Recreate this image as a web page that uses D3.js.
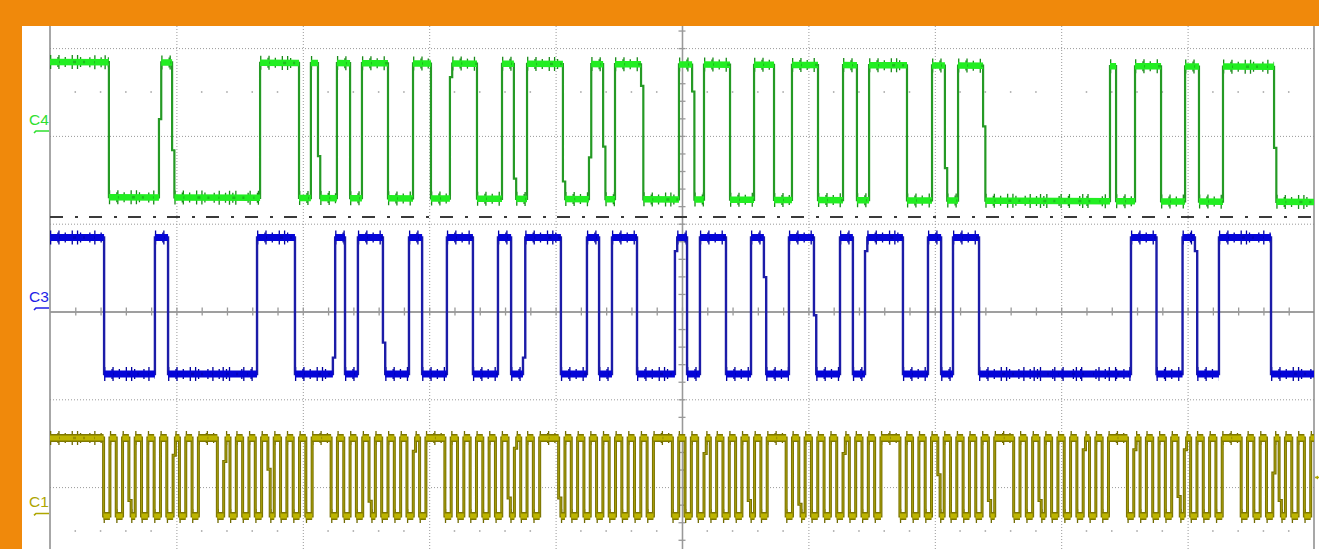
<!DOCTYPE html>
<html><head><meta charset="utf-8">
<script src="https://cdn.jsdelivr.net/npm/d3@7"></script>
<style>
html,body{margin:0;padding:0;background:#F0890B;overflow:hidden}
svg{display:block}
</style></head><body>
<svg id="c" width="1319" height="549"></svg>
<script>
// ---------------- data (time in ns, 500 ns / div, logic levels 0/1) ----------------
const channelNames = ["C4", "C3", "C1"];
const timeRangeNs = [0, 5000];

const c4Start = 1;
const c4Edges = [233,431,483,831,985,1032,1060,1135,1187,1234,1337,1436,1507,1582,1689,1788,1835,1887,
  2029,2132,2188,2235,2338,2488,2540,2587,2690,2785,2864,2935,3038,3137,3192,3240,3390,3489,3540,3592,
  3691,4193,4217,4292,4395,4490,4545,4640,4842];
const c4Glitches = [[431,0.58],[483,0.35],[1060,0.31],[1582,0.9],[1835,0.15],[2029,0.13],[2132,0.31],
  [2188,0.39],[2338,0.84],[2540,0.8],[3540,0.24],[3691,0.55],[4842,0.4]];

const c3Start = 1;
const c3Edges = [214,415,467,819,969,1119,1167,1218,1317,1420,1472,1570,1673,1772,1824,1871,2021,2124,
  2172,2223,2322,2472,2520,2571,2674,2773,2824,2923,3022,3125,3176,3224,3374,3473,3525,3572,3675,4276,
  4377,4480,4529,4624,4830];
const c3Glitches = [[1119,0.12],[1317,0.23],[1871,0.12],[2472,0.9],[2824,0.71],[3022,0.43],[3224,0.9],[4529,0.9]];

const c1Start = 1;
const c1Bytes = [
  [212,237,262,287,312,337,362,387,412,437,462,487,512,537,562,587],
  [662,687,712,737,762,787,812,837,862,887,912,937,962,987,1012,1037],
  [1112,1137,1162,1187,1212,1237,1262,1287,1312,1337,1362,1387,1412,1437,1462,1487],
  [1562,1587,1612,1637,1662,1687,1712,1737,1762,1787,1812,1837,1862,1887,1912,1937],
  [2012,2037,2062,2087,2112,2137,2162,2187,2212,2237,2262,2287,2312,2337,2362,2387],
  [2462,2487,2512,2537,2562,2587,2612,2637,2662,2687,2712,2737,2762,2787,2812,2837],
  [2912,2937,2962,2987,3012,3037,3062,3087,3112,3137,3162,3187,3212,3237,3262,3287],
  [3362,3387,3412,3437,3462,3487,3512,3537,3562,3587,3612,3637,3662,3687,3712,3737],
  [3812,3837,3862,3887,3912,3937,3962,3987,4012,4037,4062,4087,4112,4137,4162,4187],
  [4262,4287,4312,4337,4362,4387,4412,4437,4462,4487,4512,4537,4562,4587,4612,4637],
  [4712,4737,4762,4787,4812,4837,4862,4887,4912,4937,4962,4987]
];
const c1Glitches = [[312,0.2],[487,0.78],[687,0.7],[862,0.6],[1262,0.19],[1437,0.83],[1812,0.23],[1837,0.87],
  [2012,0.23],[2587,0.8],[2762,0.2],[2962,0.15],[3137,0.8],[3512,0.53],[3712,0.2],[3912,0.2],[4087,0.85],
  [4287,0.85],[4462,0.25],[4487,0.85],[4837,0.55],[4862,0.2]];

// ---------------- layout / style ----------------
const W = 1319, H = 549;
const plot = {left: 50, right: 1314, top: 26, bottom: 549};
const svg = d3.select("#c");
svg.append("rect").attr("width", W).attr("height", H).attr("fill", "#F0890B");
svg.append("rect").attr("x", 22).attr("y", 26).attr("width", W - 22).attr("height", H - 26).attr("fill", "#ffffff");

const x = d3.scaleLinear().domain(timeRangeNs).range([plot.left, plot.right]);
const yDiv = d3.scaleLinear().domain([-4, 4]).range([311.5 + 4 * 87.8, 311.5 - 4 * 87.8]);

const defs = svg.append("defs");
defs.append("clipPath").attr("id", "plotclip").append("rect")
  .attr("x", plot.left).attr("y", plot.top).attr("width", plot.right - plot.left).attr("height", plot.bottom - plot.top);

const grid = svg.append("g").attr("clip-path", "url(#plotclip)");
const gridColor = "#999999";

// vertical dotted grid
const gridTimes = d3.range(500, 5000, 500).filter(t => t !== 2500);
const gx = grid.append("g").attr("transform", `translate(0,${plot.bottom})`)
  .call(d3.axisTop(x).tickValues(gridTimes).tickSize(plot.bottom - plot.top).tickFormat(""));
gx.select(".domain").remove();
gx.selectAll("line").attr("stroke", gridColor).attr("stroke-dasharray", "1,2");

// horizontal dotted grid
const gy = grid.append("g").attr("transform", `translate(${plot.left},0)`)
  .call(d3.axisRight(yDiv).tickValues([3, 2, 1, -1, -2, -3]).tickSize(plot.right - plot.left).tickFormat(""));
gy.select(".domain").remove();
gy.selectAll("line").attr("stroke", gridColor).attr("stroke-dasharray", "1,2");

// dotted rows at +-2.5 div
const minorTimes = d3.range(100, 5000, 100);
[2.5, -2.5].forEach(d => {
  grid.append("g").selectAll("rect").data(minorTimes.filter(t => t % 500 !== 0)).join("rect")
    .attr("x", t => x(t) - 0.75).attr("y", yDiv(d) - 0.75).attr("width", 1.5).attr("height", 1.5).attr("fill", "#a0a0a0");
});

// center axes with minor ticks
const axColor = "#999999";
function styleAxis(g) { g.selectAll("line,path").attr("stroke", axColor).attr("stroke-width", 1.3); }
grid.append("g").attr("transform", `translate(0,${yDiv(0)})`)
  .call(d3.axisBottom(x).tickValues(minorTimes).tickSize(4).tickSizeOuter(0).tickFormat("")).call(styleAxis);
grid.append("g").attr("transform", `translate(0,${yDiv(0)})`)
  .call(d3.axisTop(x).tickValues(minorTimes).tickSize(4).tickSizeOuter(0).tickFormat("")).call(styleAxis);
const minorDivs = d3.range(-19, 20).map(i => i / 5);
grid.append("g").attr("transform", `translate(${x(2500)},0)`)
  .call(d3.axisRight(yDiv).tickValues(minorDivs).tickSize(3.5).tickSizeOuter(0).tickFormat("")).call(styleAxis);
grid.append("g").attr("transform", `translate(${x(2500)},0)`)
  .call(d3.axisLeft(yDiv).tickValues(minorDivs).tickSize(3.5).tickSizeOuter(0).tickFormat("")).call(styleAxis);

// borders
svg.append("line").attr("x1", plot.left).attr("x2", plot.left).attr("y1", plot.top).attr("y2", plot.bottom)
  .attr("stroke", "#8a8a8a").attr("stroke-width", 1.5);
svg.append("line").attr("x1", plot.right).attr("x2", plot.right).attr("y1", plot.top).attr("y2", plot.bottom)
  .attr("stroke", "#8a8a8a").attr("stroke-width", 1.5);

// trigger / cursor dash-dot line
svg.append("line").attr("x1", plot.left).attr("x2", plot.right).attr("y1", yDiv(1.076)).attr("y2", yDiv(1.076))
  .attr("stroke", "#3a3a3a").attr("stroke-width", 2).attr("stroke-dasharray", "13,12,3,11");

// ---------------- traces ----------------
const channels = [
  {name: "C4", start: c4Start, edges: c4Edges, glitches: c4Glitches, lowDiv: 1.304, highDiv: 2.842, driftDiv: -0.057,
   band: "#22EE22", trace: "#259A25", tick: "#198A19", rim: null, inner: null, bandW: 6.5, traceW: 2.2,
   label: "#2FE02F", markerDiv: 2.056},
  {name: "C3", start: c3Start, edges: c3Edges, glitches: c3Glitches, lowDiv: -0.712, highDiv: 0.843, driftDiv: 0,
   band: "#0505D8", trace: "#1C1CA8", tick: "#00009E", rim: null, inner: null, bandW: 7, traceW: 2.4,
   label: "#1E1EE6", markerDiv: 0.04},
  {name: "C1", start: c1Start, edges: c1Bytes.flat(), glitches: c1Glitches, lowDiv: -2.329, highDiv: -1.441, driftDiv: 0,
   band: "#BDB400", trace: "#7A7300", tick: "#706A00", rim: "#7F7800", inner: "#B2AA10", bandW: 5, traceW: 3,
   label: "#AEA600", markerDiv: -2.30}
];

const DUR = 9;
const layer = svg.append("g").attr("clip-path", "url(#plotclip)");

channels.forEach(ch => {
  const lvl = d3.scaleLinear().domain([0, 1]).range([ch.lowDiv, ch.highDiv]);
  const yOf = (l, t) => yDiv(lvl(l) + ch.driftDiv * t / timeRangeNs[1]);
  const gmap = new Map(ch.glitches);

  const pts = [[timeRangeNs[0], ch.start]];
  const runs = [];
  let cur = ch.start, t0 = timeRangeNs[0];
  ch.edges.forEach(t => {
    runs.push({t0, t1: t, l: cur});
    pts.push([t, cur]);
    if (gmap.has(t)) {
      pts.push([t, gmap.get(t)], [t + DUR, gmap.get(t)], [t + DUR, 1 - cur]);
      t0 = t + DUR;
    } else {
      pts.push([t, 1 - cur]);
      t0 = t;
    }
    cur = 1 - cur;
  });
  runs.push({t0, t1: timeRangeNs[1], l: cur});
  pts.push([timeRangeNs[1], cur]);

  const line = d3.line().x(d => x(d[0])).y(d => yOf(d[1], d[0]));
  const segPath = runs.map(r => `M${x(r.t0)},${yOf(r.l, r.t0)}L${x(r.t1)},${yOf(r.l, r.t1)}`).join("");

  const g = layer.append("g");
  // noise spikes
  g.append("path").attr("d", segPath).attr("fill", "none").attr("stroke", ch.tick)
    .attr("stroke-width", 14).attr("stroke-dasharray", "1.3,7,1.3,12,1.3,4,1.3,16,1.3,9,1.3,5,1.3,13");
  g.append("path").attr("d", segPath).attr("fill", "none").attr("stroke", ch.tick)
    .attr("stroke-width", 10).attr("stroke-dasharray", "1.3,10,1.3,6,1.3,14,1.3,8").attr("stroke-dashoffset", 4);
  // edges
  g.append("path").attr("d", line(pts)).attr("fill", "none").attr("stroke", ch.trace).attr("stroke-width", ch.traceW);
  if (ch.inner) {
    g.append("path").attr("d", line(pts)).attr("fill", "none").attr("stroke", ch.inner).attr("stroke-width", 0.8);
  }
  // level band
  if (ch.rim) {
    g.append("path").attr("d", segPath).attr("fill", "none").attr("stroke", ch.rim).attr("stroke-width", ch.bandW + 3);
  }
  g.append("path").attr("d", segPath).attr("fill", "none").attr("stroke", ch.band).attr("stroke-width", ch.bandW);
  g.append("path").attr("d", segPath).attr("fill", "none").attr("stroke", ch.tick).attr("stroke-width", 2.5)
    .attr("stroke-opacity", 0.5).attr("stroke-dasharray", "2,9,1,13,3,7").attr("stroke-dashoffset", 2);

  // label + ground marker
  const my = yDiv(ch.markerDiv);
  svg.append("text").attr("x", 29).attr("y", my - 6).text(ch.name)
    .attr("fill", ch.label).attr("font-family", "Liberation Sans, Arial, sans-serif").attr("font-size", 15.5);
  svg.append("path").attr("d", `M34,${my + 2}L36,${my}H49`).attr("fill", "none")
    .attr("stroke", ch.label).attr("stroke-width", 1.6);
});

// C1 trigger level marker on right edge
const trigY = yDiv(-1.89);
svg.append("path").attr("d", `M${plot.right + 1},${trigY}H${W}`).attr("stroke", "#B0A800").attr("stroke-width", 1.5);
svg.append("path").attr("d", `M${plot.right + 1},${trigY}l3,-2v4z`).attr("fill", "#B0A800");
</script>
</body></html>
